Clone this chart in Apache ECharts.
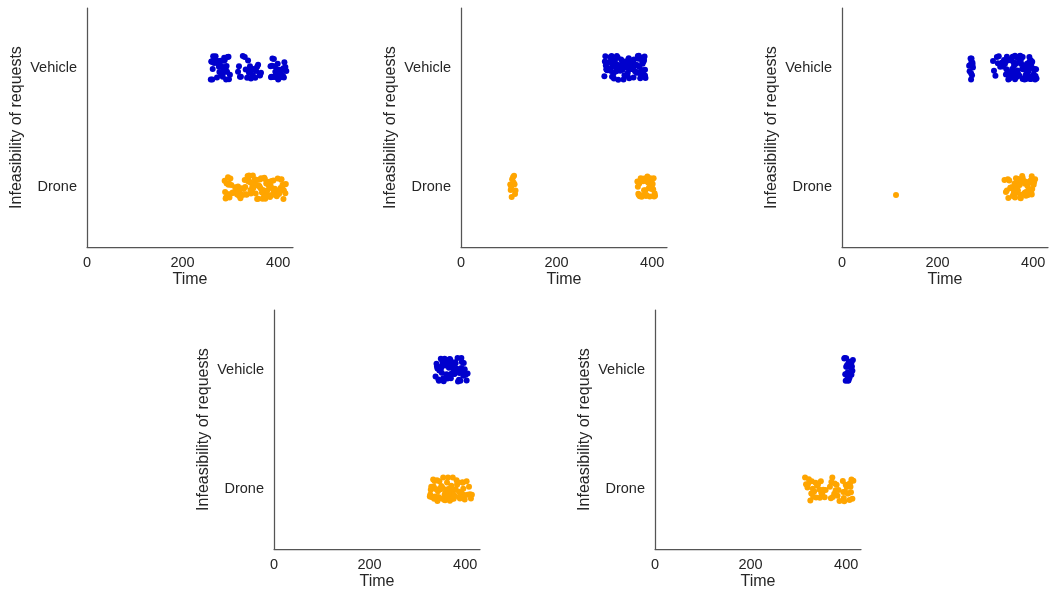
<!DOCTYPE html>
<html>
<head>
<meta charset="utf-8">
<script src="https://cdn.jsdelivr.net/npm/echarts@6/dist/echarts.min.js"></script>
<style>
  html, body { margin: 0; padding: 0; background: #fff; }
  #chart { width: 1050px; height: 599px; }
</style>
</head>
<body>
<div id="chart"></div>
<script>
// Categories on the y axis (top to bottom) and x tick labels
const categories = ['Vehicle', 'Drone'];
const xTicks = [0, 200, 400];

// Request times per scenario, split by the mode that could not serve them
const s1Vehicle = [271, 259, 284, 266, 293, 277, 262, 289, 274, 281, 268, 296, 263, 286, 279, 270, 291, 260, 283, 275, 265, 288, 272, 299, 261, 280, 269, 294, 276, 285, 264, 290, 273, 282, 267, 297, 278, 287, 262, 292,
  316, 338, 352, 322, 345, 361, 330, 341, 356, 318, 335, 349, 364, 326, 343, 358, 332, 347, 320, 354, 339, 362, 337,
  391, 405, 384, 412, 397, 402, 388, 415, 394, 408, 386, 399, 410, 393, 404, 417, 389, 401, 396, 413, 385, 407, 392, 400, 411, 398, 387, 406];
const s1Drone = [291, 334, 372, 405, 312, 356, 389, 298, 343, 381, 414, 322, 367, 288, 350, 397, 316, 375, 408, 302, 339, 361, 393, 326, 379, 294, 347, 411, 319, 370, 401, 307, 353, 385, 296, 331, 364, 416, 342, 390, 310, 376, 289, 358, 403, 336, 383, 314, 348, 395, 300, 368, 409, 328, 387, 293, 345, 373, 412, 318, 360, 399, 337, 292, 380, 354, 406, 324, 366, 297, 391, 341, 377, 313, 410, 351, 386, 303, 362, 398, 333, 371, 290, 346, 407, 321, 384, 357, 295, 400, 338, 374, 415, 330, 363, 305, 392, 349, 378, 402];

const s2Vehicle = [312, 347, 371, 325, 358, 383, 305, 339, 366, 319, 352, 378, 301, 333, 361, 386, 316, 344, 374, 328, 356, 309, 340, 369, 322, 350, 380, 303, 336, 364, 314, 346, 376, 327, 355, 385, 307, 342, 368, 320, 353, 379, 300, 331, 362, 317, 349, 373, 324, 357, 384, 306, 338, 367, 313, 345, 375, 329, 359, 382, 302, 335, 363, 318, 351, 377, 326, 354, 310, 343, 370, 321, 348, 381, 304, 337, 365, 315, 360, 372, 330, 385, 308, 341];
const s2Drone = [106, 112, 104, 109, 114, 107, 111, 103, 110, 113, 108, 105,
  374, 391, 403, 381, 396, 370, 387, 399, 378, 393, 406, 384, 372, 397, 389, 402, 376, 394, 383, 400, 369, 388, 405, 380, 395, 373, 392, 385, 401, 377, 398, 390, 371, 404, 386];

const s3Vehicle = [268, 271, 273, 267, 270, 274, 269, 272, 266, 271, 270, 273,
  318, 331, 345, 362, 378, 394, 352, 386, 401, 337, 369, 383, 355, 398, 324, 372, 390, 348, 365, 404, 341, 381, 358, 395, 375, 316, 362, 388, 350, 406, 367, 384, 328, 397, 359, 377, 392, 344, 370, 403, 380, 354, 387, 364, 399, 335, 373, 391, 347, 385, 360, 396, 368, 321, 379, 402, 357, 389, 366, 382, 339, 393, 374, 353, 400, 371, 387, 363, 405, 376, 349, 384, 361, 395, 378, 326, 390, 356, 398, 367, 381, 343, 407, 372, 392];
const s3Drone = [113,
  352, 377, 391, 364, 385, 343, 371, 398, 358, 382, 395, 367, 347, 389, 374, 401, 361, 380, 354, 393, 369, 386, 340, 376, 397, 359, 383, 366, 404, 350, 388, 373, 392, 363, 379, 345, 396, 370, 384, 356, 399, 375, 390, 362, 381, 348, 394, 368, 387, 357, 402, 372, 378, 365, 391, 353, 385, 360, 397, 374];

const s4Vehicle = [355, 381, 349, 392, 366, 374, 341, 399, 360, 386, 371, 346, 395, 363, 379, 352, 403, 368, 387, 344, 376, 358, 393, 338, 383, 365, 350, 401, 372, 357, 390, 347, 378, 362, 396, 354, 384, 369, 342, 405, 375, 359, 388, 351, 397, 367, 380, 345, 392, 361, 374, 356, 385, 340, 398, 370, 364, 389, 353, 377];
const s4Drone = [334, 362, 389, 347, 375, 408, 327, 356, 382, 341, 369, 396, 330, 352, 378, 412, 338, 365, 391, 345, 373, 403, 326, 358, 384, 349, 367, 399, 336, 354, 380, 343, 371, 394, 329, 360, 387, 414, 339, 364, 376, 351, 398, 333, 368, 385, 346, 357, 392, 328, 374, 405, 342, 361, 383, 337, 370, 395, 350, 366, 388, 331, 359, 377, 410, 344, 372, 390, 335, 363];

const s5Vehicle = [402, 408, 398, 411, 405, 400, 413, 397, 407, 403, 410, 399, 406, 412, 401, 404, 409, 396, 414, 402, 407, 400, 411, 405, 403];
const s5Drone = [322, 341, 316, 350, 330, 345, 319, 336, 355, 325, 348, 314, 339, 328, 352, 333, 320, 344, 357, 327, 337, 318, 347, 331,
  371, 380, 368, 384, 375, 366, 378, 386, 372, 382, 369, 376,
  402, 397, 410, 394, 406, 413, 399, 404, 396, 411, 408, 393, 415, 401, 407, 395, 409, 403];

const panels = [
  { vehicle: s1Vehicle, drone: s1Drone },
  { vehicle: s2Vehicle, drone: s2Drone },
  { vehicle: s3Vehicle, drone: s3Drone },
  { vehicle: s4Vehicle, drone: s4Drone },
  { vehicle: s5Vehicle, drone: s5Drone }
];

const colors = { Vehicle: '#0000cd', Drone: '#ffa500' };
const gridBoxes = [
  { left: 87, top: 8 },
  { left: 461, top: 8 },
  { left: 842, top: 8 },
  { left: 274, top: 310 },
  { left: 655, top: 310 }
];

// Deterministic strip jitter from an integer hash of the point index,
// spread over +/-0.1 of a category step
function jitter(i, seed) {
  let h = (i + 1) * 2654435761 + seed * 40503;
  h = Math.imul(h ^ (h >>> 15), 2246822519);
  h = Math.imul(h ^ (h >>> 13), 3266489917);
  h = (h ^ (h >>> 16)) >>> 0;
  return (h / 4294967296 - 0.5) * 0.2;
}

const textColor = '#262626';
const spineColor = '#555555';

const grid = [], xAxis = [], yAxis = [], series = [];
gridBoxes.forEach((g, k) => {
  grid.push({ left: g.left, top: g.top, width: 206, height: 239 });
  xAxis.push({
    type: 'value', gridIndex: k, min: 0, max: 431,
    name: 'Time', nameLocation: 'middle', nameGap: 25,
    nameTextStyle: { fontSize: 16, color: textColor, fontFamily: 'Liberation Sans' },
    axisLine: { show: true, onZero: false, lineStyle: { color: spineColor, width: 1.25 } },
    axisTick: { show: false },
    splitLine: { show: false },
    axisLabel: { customValues: xTicks, fontSize: 14.5, color: textColor, margin: 8, fontFamily: 'Liberation Sans' }
  });
  yAxis.push({
    type: 'value', gridIndex: k, min: -0.5, max: 1.5, inverse: true,
    name: 'Infeasibility of requests', nameLocation: 'middle', nameGap: 62, nameRotate: 90,
    nameTextStyle: { fontSize: 16, color: textColor, fontFamily: 'Liberation Sans' },
    axisLine: { show: true, onZero: false, lineStyle: { color: spineColor, width: 1.25 } },
    axisTick: { show: false },
    splitLine: { show: false },
    axisLabel: {
      customValues: [0, 1], fontSize: 14.5, color: textColor, margin: 10, fontFamily: 'Liberation Sans',
      formatter: v => categories[Math.round(v)]
    }
  });
  categories.forEach((cat, ci) => {
    const vals = ci === 0 ? panels[k].vehicle : panels[k].drone;
    series.push({
      type: 'scatter', xAxisIndex: k, yAxisIndex: k,
      name: cat, symbolSize: 6, silent: true,
      itemStyle: { color: colors[cat], opacity: 1 },
      data: vals.map((t, i) => [t, ci + jitter(i, k * 2 + ci + 1)])
    });
  });
});

const chart = echarts.init(document.getElementById('chart'), null, { renderer: 'canvas' });
chart.setOption({
  animation: false,
  backgroundColor: '#ffffff',
  grid, xAxis, yAxis, series
});
</script>
</body>
</html>
